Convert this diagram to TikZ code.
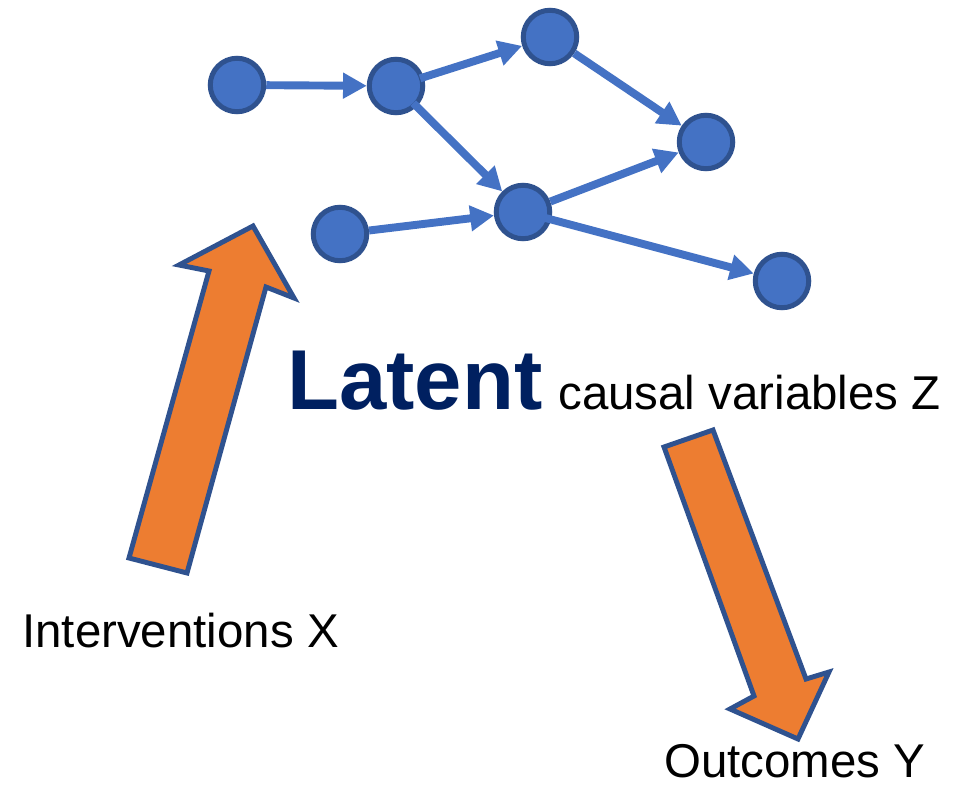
\documentclass[tikz,border=0pt]{standalone}
\usepackage{fontspec}
\setmainfont{Liberation Sans}
\usetikzlibrary{arrows.meta}
\definecolor{nodeblue}{HTML}{4472C4}
\definecolor{ringblue}{HTML}{2F528F}
\definecolor{arroworange}{HTML}{ED7D31}
\definecolor{navy}{HTML}{002060}

\begin{document}
\begin{tikzpicture}[x=0.02cm,y=-0.02cm,
  var/.style={circle, draw=ringblue, fill=nodeblue, line width=2.85pt,
              minimum size=1.07cm, inner sep=0pt},
  edge/.style={draw=nodeblue, line width=4.5pt,
               -{Triangle[length=13.5pt,width=14pt]}},
  bigarrow/.style={draw=ringblue, fill=arroworange, line width=2.8pt,
                   line join=miter},
  txt/.style={inner sep=0pt, anchor=base west,
              font=\fontsize{27}{31}\selectfont}
]
% page frame
\useasboundingbox (0,0) rectangle (969,784);

% causal graph
\node[var] (A) at (237,85) {};
\node[var] (B) at (396,86) {};
\node[var] (C) at (550,37) {};
\node[var] (D) at (706,142) {};
\node[var] (E) at (523,212) {};
\node[var] (F) at (340,234) {};
\node[var] (G) at (782,281) {};

\draw[edge] (A) -- (B);
\draw[edge, shorten <=-0.08cm] (B) -- (C);
\draw[edge, shorten <=-0.1cm] (B) -- (E);
\draw[edge] (C) -- (D);
\draw[edge] (F) -- (E);
\draw[edge] (E) -- (D);
\draw[edge, shorten <=-0.35cm] (E) -- (G);

% block arrows
\path[bigarrow] (129,558) -- (187,573) -- (266,287) -- (294,298)
  -- (253,226) -- (179,265) -- (209,271) -- cycle;
\path[bigarrow] (664,447) -- (713,430) -- (806,679) -- (829,672)
  -- (798,739) -- (730,709) -- (754,696) -- cycle;

% labels
\node[inner sep=0pt, anchor=base west, text=navy,
      font=\fontsize{48.4}{56}\selectfont\bfseries] (lat) at (287,409) {Latent};
\node[txt] (cvz) at (558,409) {causal variables Z};
\node[txt] (ix) at (22,647) {Interventions X};
\node[txt] (oy) at (664,777) {Outcomes Y};
\end{tikzpicture}
\end{document}
